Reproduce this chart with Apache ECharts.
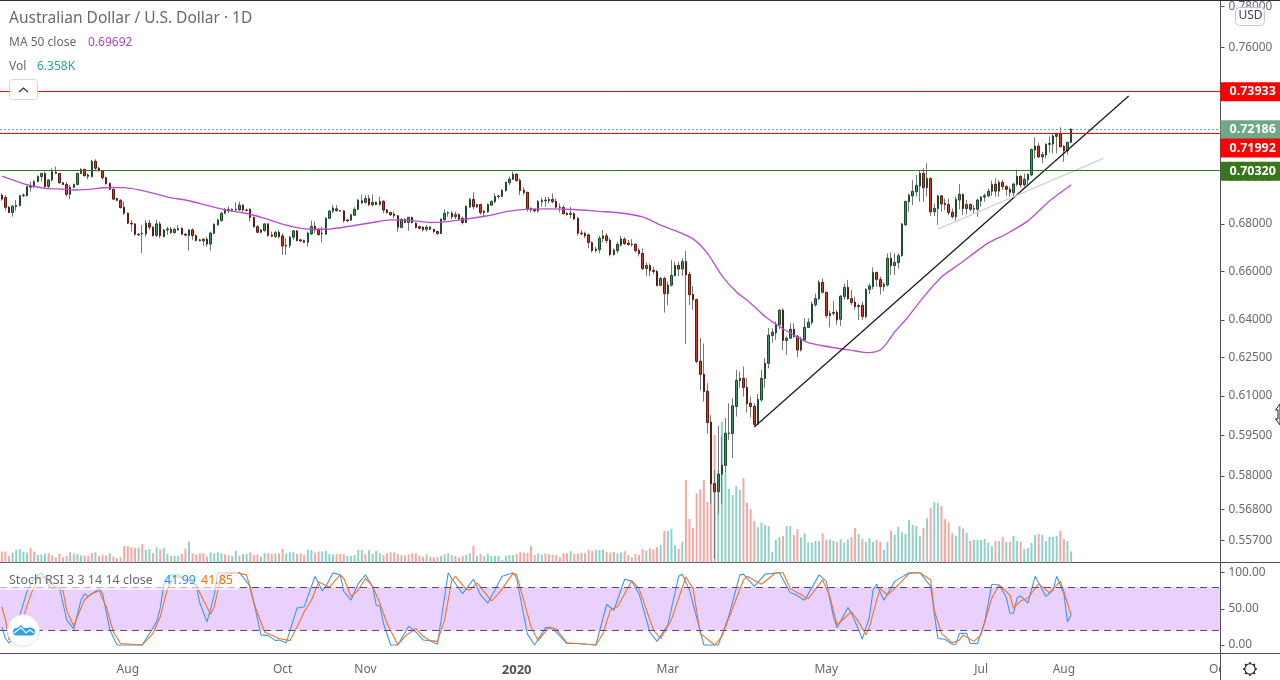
<!DOCTYPE html>
<html>
<head>
<meta charset="utf-8">
<title>AUD/USD</title>
<style>
  html, body { margin: 0; padding: 0; background: #fff; }
  #main { width: 1280px; height: 680px; }
</style>
<script src="https://cdn.jsdelivr.net/npm/echarts@6/dist/echarts.min.js"></script>
</head>
<body>
<div id="main"></div>
<script>
var opens = [
  .6925,.6914,.6872,.6849,.6875,.6879,.6922,.6922,.6959,.6962, .6984,.7006,.7020,.6962,.6991,.7026,.7020,.6979,.6971,.6928,
  .6959,.6971,.7020,.7038,.7013,.7006,.7074,.7043,.7032,.7001, .6976,.6950,.6910,.6902,.6872,.6846,.6803,.6800,.6756,.6757,
  .6757,.6803,.6786,.6751,.6800,.6746,.6774,.6777,.6763,.6774, .6781,.6756,.6750,.6774,.6750,.6732,.6727,.6735,.6714,.6760,
  .6796,.6814,.6846,.6863,.6857,.6860,.6860,.6881,.6860,.6863, .6828,.6788,.6764,.6771,.6800,.6753,.6746,.6764,.6749,.6709,
  .6708,.6743,.6770,.6732,.6729,.6722,.6757,.6790,.6778,.6760, .6756,.6824,.6855,.6865,.6857,.6856,.6817,.6816,.6837,.6863,
  .6900,.6893,.6910,.6883,.6893,.6884,.6897,.6860,.6849,.6842, .6835,.6785,.6820,.6806,.6828,.6803,.6788,.6786,.6777,.6786,
  .6777,.6768,.6759,.6818,.6846,.6846,.6831,.6840,.6824,.6806, .6873,.6906,.6874,.6884,.6849,.6852,.6881,.6896,.6918,.6919,
  .6944,.6979,.6994,.7017,.6989,.6946,.6937,.6867,.6863,.6856, .6896,.6900,.6900,.6906,.6897,.6872,.6871,.6846,.6841,.6844,
  .6824,.6761,.6760,.6753,.6721,.6686,.6690,.6738,.6749,.6730, .6670,.6686,.6710,.6735,.6718,.6713,.6713,.6688,.6675,.6611,
  .6624,.6603,.6599,.6542,.6570,.6507,.6542,.6582,.6624,.6609, .6641,.6587,.6504,.6483,.6236,.6185,.6119,.6001,.5773,.5743,
  .5807,.5839,.5958,.5958,.6060,.6160,.6169,.6134,.6073,.6061, .5993,.6085,.6168,.6227,.6338,.6348,.6381,.6440,.6318,.6327,
  .6363,.6335,.6280,.6320,.6370,.6390,.6462,.6486,.6554,.6513, .6418,.6427,.6431,.6403,.6495,.6533,.6487,.6473,.6454,.6460,
  .6414,.6525,.6536,.6595,.6566,.6536,.6543,.6654,.6623,.6636, .6665,.6796,.6896,.6921,.6939,.6964,.7020,.6957,.6998,.6852,
  .6866,.6921,.6889,.6884,.6850,.6831,.6903,.6928,.6866,.6884, .6863,.6863,.6899,.6916,.6921,.6941,.6973,.6942,.6981,.6962,
  .6950,.6935,.6972,.7007,.6969,.6991,.7013,.7124,.7142,.7094, .7102,.7150,.7151,.7186,.7197,.7142,.7121,.7159
];
var closes = [
  .6907,.6871,.6849,.6877,.6881,.6922,.6925,.6962,.6965,.6984, .7006,.7020,.6962,.6991,.7028,.7020,.6979,.6971,.6928,.6959,
  .6971,.7020,.7038,.7010,.7007,.7074,.7043,.7032,.7001,.6975, .6950,.6907,.6902,.6870,.6846,.6803,.6800,.6756,.6753,.6760,
  .6803,.6786,.6750,.6800,.6749,.6774,.6778,.6763,.6777,.6780, .6756,.6752,.6774,.6750,.6729,.6728,.6735,.6714,.6761,.6798,
  .6817,.6846,.6863,.6856,.6863,.6863,.6881,.6860,.6859,.6827, .6788,.6764,.6774,.6800,.6750,.6747,.6764,.6746,.6706,.6705,
  .6743,.6770,.6729,.6727,.6722,.6761,.6788,.6774,.6754,.6758, .6824,.6855,.6869,.6857,.6856,.6814,.6813,.6839,.6863,.6903,
  .6891,.6910,.6883,.6893,.6884,.6897,.6860,.6849,.6839,.6835, .6786,.6820,.6806,.6828,.6806,.6785,.6781,.6775,.6786,.6777,
  .6767,.6759,.6821,.6846,.6848,.6831,.6840,.6821,.6806,.6876, .6906,.6874,.6883,.6849,.6855,.6884,.6897,.6919,.6921,.6946,
  .6981,.6995,.7017,.6988,.6944,.6935,.6864,.6861,.6856,.6897, .6902,.6903,.6906,.6896,.6872,.6871,.6844,.6840,.6846,.6821,
  .6760,.6758,.6749,.6721,.6686,.6693,.6739,.6749,.6729,.6670, .6689,.6713,.6736,.6716,.6712,.6712,.6686,.6674,.6611,.6624,
  .6602,.6599,.6540,.6570,.6507,.6543,.6583,.6624,.6609,.6641, .6585,.6503,.6482,.6235,.6184,.6117,.5999,.5772,.5743,.5807,
  .5840,.5959,.5959,.6063,.6161,.6169,.6133,.6071,.6060,.5992, .6088,.6169,.6228,.6339,.6351,.6382,.6440,.6318,.6327,.6363,
  .6334,.6280,.6323,.6371,.6391,.6465,.6487,.6554,.6513,.6418, .6427,.6431,.6400,.6497,.6533,.6486,.6471,.6454,.6459,.6414,
  .6525,.6539,.6595,.6566,.6536,.6546,.6654,.6623,.6637,.6665, .6800,.6897,.6924,.6941,.6967,.7020,.6957,.6998,.6852,.6867,
  .6921,.6886,.6884,.6849,.6831,.6906,.6928,.6866,.6884,.6863, .6866,.6903,.6916,.6922,.6942,.6972,.6942,.6981,.6962,.6950,
  .6937,.6973,.7007,.6969,.6994,.7016,.7127,.7142,.7094,.7104, .7150,.7154,.7188,.7197,.7139,.7121,.7159,.72186
];
var lows = [
  .6900,.6858,.6846,.6831,.6857,.6875,.6916,.6918,.6940,.6955, .6980,.6984,.6955,.6955,.6984,.7017,.6973,.6968,.6918,.6907,
  .6955,.6968,.7017,.7006,.6994,.7002,.7035,.7028,.6994,.6970, .6946,.6903,.6898,.6867,.6839,.6799,.6767,.6750,.6749,.6675,
  .6746,.6774,.6746,.6743,.6739,.6742,.6753,.6757,.6757,.6771, .6752,.6746,.6686,.6732,.6725,.6725,.6706,.6703,.6686,.6756,
  .6792,.6810,.6842,.6846,.6853,.6853,.6857,.6853,.6853,.6810, .6784,.6760,.6760,.6767,.6746,.6743,.6740,.6739,.6668,.6668,
  .6697,.6732,.6725,.6724,.6718,.6703,.6753,.6760,.6750,.6721, .6752,.6820,.6846,.6853,.6852,.6806,.6808,.6812,.6833,.6859,
  .6885,.6888,.6877,.6875,.6880,.6879,.6846,.6845,.6835,.6825, .6767,.6781,.6802,.6771,.6802,.6781,.6777,.6767,.6767,.6773,
  .6760,.6753,.6757,.6810,.6831,.6821,.6821,.6814,.6797,.6803, .6867,.6863,.6868,.6839,.6831,.6848,.6877,.6889,.6908,.6915,
  .6940,.6969,.6991,.6984,.6925,.6925,.6853,.6849,.6849,.6849, .6874,.6874,.6889,.6889,.6867,.6849,.6839,.6835,.6824,.6817,
  .6750,.6753,.6739,.6696,.6679,.6679,.6675,.6721,.6718,.6662, .6665,.6675,.6703,.6710,.6707,.6703,.6678,.6662,.6605,.6580,
  .6580,.6588,.6538,.6538,.6430,.6460,.6536,.6577,.6580,.6580, .6304,.6460,.6441,.6228,.6121,.6079,.5957,.5699,.5505,.5664,
  .5699,.5813,.5934,.5866,.6022,.6131,.6098,.6037,.6019,.5984, .5990,.6079,.6131,.6208,.6309,.6320,.6363,.6280,.6260,.6323,
  .6327,.6252,.6274,.6313,.6367,.6381,.6454,.6481,.6508,.6407, .6370,.6418,.6381,.6376,.6483,.6483,.6460,.6441,.6400,.6400,
  .6407,.6506,.6525,.6536,.6503,.6517,.6536,.6584,.6584,.6611, .6661,.6792,.6852,.6881,.6918,.6896,.6896,.6918,.6834,.6834,
  .6796,.6852,.6860,.6838,.6824,.6814,.6863,.6838,.6841,.6855, .6846,.6831,.6874,.6896,.6915,.6921,.6918,.6918,.6947,.6921,
  .6918,.6910,.6962,.6959,.6962,.6969,.7008,.7087,.7087,.7065, .7087,.7112,.7109,.7109,.7136,.7072,.7104,.7155
];
var highs = [
  .6933,.6925,.6877,.6881,.6903,.6925,.6932,.6965,.6984,.6991, .7012,.7023,.7028,.6995,.7043,.7050,.7023,.6982,.6982,.6970,
  .6976,.7023,.7043,.7041,.7020,.7080,.7083,.7050,.7035,.7006, .6980,.6953,.6914,.6907,.6896,.6849,.6817,.6803,.6760,.6795,
  .6817,.6817,.6790,.6817,.6810,.6778,.6788,.6786,.6783,.6795, .6786,.6760,.6777,.6781,.6755,.6736,.6739,.6746,.6767,.6802,
  .6822,.6850,.6868,.6875,.6867,.6893,.6896,.6885,.6866,.6867, .6832,.6795,.6778,.6803,.6803,.6767,.6770,.6774,.6760,.6739,
  .6749,.6774,.6774,.6735,.6733,.6767,.6814,.6810,.6782,.6788, .6830,.6860,.6881,.6881,.6860,.6860,.6820,.6843,.6872,.6907,
  .6927,.6925,.6925,.6927,.6897,.6917,.6903,.6865,.6853,.6853, .6838,.6824,.6824,.6831,.6832,.6807,.6792,.6791,.6795,.6790,
  .6779,.6770,.6823,.6863,.6855,.6855,.6853,.6846,.6831,.6880, .6913,.6937,.6887,.6886,.6859,.6888,.6902,.6932,.6925,.6950,
  .6985,.7006,.7028,.7020,.6998,.6959,.6939,.6871,.6867,.6903, .6913,.6917,.6917,.6932,.6910,.6889,.6881,.6850,.6874,.6850,
  .6831,.6774,.6767,.6760,.6725,.6703,.6749,.6774,.6760,.6739, .6696,.6724,.6749,.6743,.6732,.6735,.6717,.6696,.6696,.6637,
  .6633,.6619,.6605,.6577,.6577,.6557,.6647,.6640,.6640,.6654, .6685,.6598,.6539,.6487,.6327,.6306,.6150,.6028,.5823,.5986,
  .5946,.6016,.6073,.6091,.6202,.6195,.6215,.6169,.6098,.6073, .6108,.6202,.6248,.6367,.6367,.6394,.6444,.6448,.6337,.6387,
  .6387,.6340,.6333,.6407,.6407,.6474,.6508,.6564,.6570,.6515, .6438,.6477,.6441,.6501,.6550,.6564,.6522,.6495,.6467,.6474,
  .6529,.6550,.6616,.6598,.6577,.6554,.6675,.6679,.6675,.6675, .6803,.6900,.6932,.6991,.7013,.7035,.7043,.7065,.7002,.6888,
  .6925,.6925,.6910,.6910,.6867,.6918,.6973,.6932,.6903,.6888, .6881,.6910,.6921,.6932,.6954,.6988,.6998,.6991,.6991,.6969,
  .6962,.6979,.7038,.7013,.7020,.7020,.7131,.7182,.7157,.7116, .7154,.7185,.7200,.7203,.7227,.7146,.7162,.7223
];

// volume in thousands, side 1 = up bar, 0 = down bar
var volumes = [
  6.2,6.2,3.7,5.6,7.1,7.7,6.0,5.6,8.1,6.2, 4.2,4.4,5.2,5.2,4.0,2.9,4.8,2.9,3.7,5.8,
  5.2,4.8,3.9,4.0,3.7,5.2,5.8,3.7,4.2,3.9, 5.2,3.3,2.3,2.9,9.4,9.4,8.7,8.3,8.5,10.6,
  7.1,7.7,5.2,8.7,7.5,8.3,4.8,3.7,3.7,3.7, 4.8,7.9,11.9,5.2,4.6,5.2,5.2,3.3,5.8,5.2,
  5.8,5.2,4.6,4.0,3.7,6.6,3.9,4.8,4.8,5.8, 4.2,4.6,3.3,5.2,5.2,4.8,5.2,5.2,7.7,5.2,
  5.8,5.8,4.8,5.2,4.4,7.5,7.1,5.6,6.2,6.2, 6.6,4.8,4.4,4.8,4.8,4.6,3.7,3.7,4.2,7.1,
  7.1,4.8,7.1,4.8,6.6,5.2,4.2,5.2,5.8,5.8, 4.8,4.2,4.0,4.6,5.2,5.2,3.9,3.3,4.6,3.3,
  2.9,2.9,3.7,4.6,5.2,4.2,3.7,2.9,3.7,4.2, 5.2,9.4,3.7,4.8,3.7,4.8,3.7,3.7,3.7,1.3,
  3.7,4.2,4.2,4.8,6.0,5.6,5.6,9.4,4.2,5.2, 4.4,5.2,4.8,4.4,4.2,2.9,5.2,5.2,6.4,4.8,
  5.2,5.6,5.2,7.1,6.6,7.1,7.1,7.1,6.0,5.6, 6.0,5.2,5.6,6.4,4.2,2.9,4.8,4.2,7.7,6.6,
  8.1,7.5,8.7,10.0,18.1,18.1,19.3,10.0,7.7,11.9, 47.6,25.0,20.0,39.9,42.2,47.6,34.9,52.0,73.5,53.3,
  81.1,51.8,42.4,38.9,44.1,41.8,48.7,34.3,30.8,23.9, 20.2,23.0,21.6,21.0,6.0,12.9,14.5,15.2,21.0,21.0,
  15.8,19.1,14.5,16.8,11.6,11.4,12.3,12.3,16.8,12.9, 13.3,12.3,11.8,13.3,11.4,13.3,14.6,19.8,16.2,13.5,
  11.8,13.9,11.8,12.9,11.8,7.1,11.9,18.1,15.8,20.4, 17.3,16.4,24.5,21.6,21.0,15.4,19.8,25.6,31.4,34.9,
  34.3,32.6,25.0,23.1,17.0,15.4,21.0,19.5,17.0,12.3, 12.9,12.9,12.9,13.5,11.4,9.4,12.3,12.3,14.6,11.8,
  11.8,15.2,12.3,11.8,7.7,8.3,11.2,15.8,16.4,15.8, 12.3,14.6,14.6,15.2,18.1,13.5,12.3,6.358
];
var volumeSides = [
  0,0,0,1,1,1,1,1,0,0, 1,1,1,0,0,1,0,0,0,1, 0,1,1,0,0,0,1,0,0,0, 1,0,0,0,0,0,0,0,1,0,
  1,1,0,1,0,1,1,0,1,1, 0,0,1,0,0,0,0,0,1,1, 1,1,0,0,1,1,0,1,1,0, 0,0,1,1,0,0,1,0,0,1,
  1,1,0,0,0,1,1,0,0,1, 1,1,1,0,0,0,1,1,1,1, 1,0,1,1,1,1,0,0,0,0, 0,1,0,0,0,0,0,0,1,0,
  0,0,1,1,1,0,1,0,0,1, 1,0,1,0,1,1,1,1,1,1, 1,1,1,0,0,0,0,0,0,1, 1,0,0,0,0,0,0,0,1,0,
  0,1,0,0,0,1,1,1,0,0, 0,1,1,0,0,1,0,0,0,1, 0,0,0,1,0,1,1,1,0,1, 0,0,0,0,0,0,0,0,0,1,
  1,1,1,1,1,1,0,0,0,0, 1,1,1,1,1,1,1,0,1,1, 0,0,1,1,1,1,1,1,0,0, 1,1,0,1,1,1,0,0,1,0,
  1,1,1,0,0,1,1,0,1,1, 1,1,1,1,1,1,0,1,0,1, 1,0,0,0,0,1,1,0,1,0, 1,1,1,1,1,1,0,1,0,1,
  0,1,1,0,1,1,1,1,0,1, 1,1,1,1,0,0,1,1
];

var maBars = [0,4,7,12,17,20,24,30,34,40,46,52,57,62,67,73,77,82,86,91,97,103,108,114,119,
  123,129,135,141,146,152,159,166,172,178,183,187,192,196,200,204,208,212,216,220,224,228,232,236,239,
  241,244,246,248,251,256,261,266,274,279,285,291,297];
var maValues = [.7008,.6986,.6970,.6954,.6951,.6947,.6950,.6958,.6957,.6941,.6916,.6900,.6880,.6860,.6848,.6824,.6803,.6784,.6777,.6778,.6791,.6806,.6817,.6814,.6806,
  .6809,.6821,.6835,.6855,.6864,.6865,.6862,.6854,.6847,.6830,.6795,.6771,.6736,.6675,.6582,.6515,.6468,.6414,.6374,.6340,.6309,.6297,.6287,.6279,.6272,
  .6270,.6280,.6311,.6352,.6400,.6493,.6576,.6630,.6719,.6757,.6813,.6899,.69692];

var kBars = [0,1,2,3,5,7,9,11,13,14,16,18,20,22,23,24,27,28,30,32,39,41,43,44,45,47,49,54,55,57,59,60,66,69,72,74,76,77,79,81,82,84,86,87,89,90,92,94,95,97,99,101,103,104,105,106,108,110,113,115,117,119,
  121,124,125,128,131,133,135,139,142,143,146,148,151,153,157,160,165,168,170,173,175,177,180,182,185,188,189,191,195,199,202,205,206,209,212,216,219,220,223,227,229,231,232,235,236,238,
  239,241,242,243,245,248,252,255,258,259,260,262,264,265,266,268,269,271,273,275,277,279,280,281,282,283,285,287,290,292,293,295,296,297];
var kValues = [25,9,3,7,41,74,92,100,83,78,80,35,22,62,71,67,78,71,21,0,0,16,32,51,83,97,97,83,58,32,69,100,100,81,14,13,6,7,3,35,51,53,81,95,75,81,100,97,74,62,85,97,81,55,54,30,0,0,26,18,7,6,
  1,100,92,71,91,69,58,95,100,92,15,0,24,23,2,2,0,56,48,91,88,71,18,5,28,95,98,76,0,0,41,97,98,81,98,100,72,71,62,97,88,39,24,52,44,21,
  8,39,76,84,62,88,100,100,81,44,9,8,1,1,16,16,2,2,32,84,83,66,44,44,65,68,58,95,67,76,95,71,32,41.99];
var dBars = [0,1,2,4,6,8,10,12,14,17,18,20,21,23,25,27,29,31,33,39,42,44,46,48,51,54,56,58,59,61,65,68,70,73,77,80,82,84,86,88,91,94,95,97,99,101,103,105,107,110,112,115,117,119,
  121,123,125,126,129,130,132,136,138,142,143,147,149,152,154,157,165,167,169,171,175,177,181,183,186,190,192,194,198,200,206,207,211,215,217,219,224,228,230,232,236,
  238,240,241,243,244,246,249,252,255,258,259,261,264,266,267,270,272,275,277,280,281,283,285,288,291,294,295,297];
var dValues = [53,35,7,12,39,69,92,95,83,76,48,26,39,63,71,75,53,18,2,0,16,39,78,95,92,83,62,43,53,97,100,97,58,18,9,6,25,46,62,87,80,97,92,67,76,92,81,58,30,0,12,23,12,6,
  5,35,90,95,77,76,86,61,71,99,97,25,6,25,22,3,0,16,48,53,89,78,21,9,35,94,78,16,0,12,90,95,84,100,100,78,64,90,67,28,46,
  32,14,25,62,78,69,83,99,100,90,48,16,3,7,14,5,14,65,83,69,51,61,65,85,72,88,74,41.85];
var rsiTicks = [0, 50, 100];

var priceTicks = [0.78, 0.76, 0.70, 0.68, 0.66, 0.64, 0.625, 0.61, 0.595, 0.58, 0.568, 0.557];
var dateTickBars = [35, 78, 101, 143, 185, 229, 272, 295, 338];
var dateTickNames = ['Aug', 'Oct', 'Nov', '2020', 'Mar', 'May', 'Jul', 'Aug', 'Oct'];
var barCategories = Array.from({ length: 339 }, function (_, i) { return String(i); });

// drawn lines on the chart: [bar, price]
var trendBlack = [[209, .5982], [313, .7371]];
var trendGray = [[260, .6778], [306, .7087]];

var PRICE_RED = '#ff0000';
var PRICE_GREEN = '#38761d';
var LAST_GREEN = '#6fa98a';
var TEXT = '#666974';
var AXIS = '#50535e';

var chart = echarts.init(document.getElementById('main'));

function tag(price, color, offsetY, lineType) {
  return {
    yAxis: price,
    lineStyle: { color: color, width: 1, type: lineType || 'solid' },
    label: {
      show: true, position: 'end', distance: 0, formatter: price.toFixed(5),
      color: '#fff', fontFamily: 'Noto Sans', fontSize: 12.5, fontWeight: 'bold',
      backgroundColor: color, padding: [3, 9, 3, 9], offset: [0, (offsetY || 0) + 0.5]
    }
  };
}

var wickData = opens.map(function (o, i) { return [o, closes[i], lows[i], highs[i]]; });
var bodyData = opens.map(function (o, i) {
  return [o, closes[i], Math.min(o, closes[i]), Math.max(o, closes[i])];
});
var maData = maBars.map(function (b, i) { return [b, maValues[i]]; });
var kData = kBars.map(function (b, i) { return [b, kValues[i]]; });
var dData = dBars.map(function (b, i) { return [b, dValues[i]]; });

var option = {
  animation: false,
  backgroundColor: '#fff',
  textStyle: { fontFamily: 'Noto Sans' },
  grid: [
    { left: -1.6, width: 1222.1, top: 0.5, height: 561.8 },
    { left: -1.6, width: 1222.1, top: 562.3, height: 91 }
  ],
  xAxis: [
    {
      type: 'category', gridIndex: 0, data: barCategories,
      axisLine: { onZero: false, lineStyle: { color: AXIS, width: 1 } },
      axisTick: { show: false }, axisLabel: { show: false }
    },
    {
      type: 'category', gridIndex: 1, data: barCategories, z: 0,
      axisLine: { onZero: false, lineStyle: { color: AXIS, width: 1 } },
      axisTick: {
        alignWithLabel: true, length: 4, lineStyle: { color: AXIS },
        interval: function (i) { return dateTickBars.indexOf(i) >= 0; }
      },
      axisLabel: {
        color: TEXT, fontSize: 12, margin: 10,
        interval: function (i) { return dateTickBars.indexOf(i) >= 0; },
        formatter: function (v, i) {
          var name = dateTickNames[dateTickBars.indexOf(i)];
          return name === '2020' ? '{y|2020}' : name;
        },
        rich: { y: { fontSize: 13, fontWeight: 'bold', color: '#50535e' } }
      }
    }
  ],
  yAxis: [
    {
      type: 'log', gridIndex: 0, position: 'right', min: 0.5493, max: 0.7829, z: 2,
      axisLine: { show: true, lineStyle: { color: AXIS, width: 1 } },
      axisTick: { show: true, length: 4, lineStyle: { color: AXIS }, customValues: priceTicks },
      axisLabel: {
        color: TEXT, fontSize: 11.8, margin: 8, padding: [5, 0, 0, 0], customValues: priceTicks,
        formatter: function (v) { return Number(v).toFixed(5); }
      },
      splitLine: { show: false }
    },
    {
      type: 'value', gridIndex: 0, min: 0, max: 324.7, show: false, splitLine: { show: false }
    },
    {
      type: 'value', gridIndex: 1, position: 'right', min: -11.5, max: 114.4, z: 2,
      axisLine: { show: true, lineStyle: { color: AXIS, width: 1 } },
      axisTick: { show: true, length: 4, lineStyle: { color: AXIS }, customValues: rsiTicks },
      axisLabel: {
        color: TEXT, fontSize: 11.8, margin: 8, padding: [5, 0, 0, 0], customValues: rsiTicks,
        formatter: function (v) { return v.toFixed(2); }
      },
      splitLine: { show: false }
    }
  ],
  series: [
    {
      name: 'Vol', type: 'bar', xAxisIndex: 0, yAxisIndex: 1, data: volumes, barWidth: 2, z: 1,
      itemStyle: {
        color: function (p) { return volumeSides[p.dataIndex] ? '#90d2c8' : '#f6a8a4'; }
      }
    },
    {
      name: 'wicks', type: 'candlestick', xAxisIndex: 0, yAxisIndex: 0, data: wickData, barWidth: 1, z: 2,
      itemStyle: { color: '#777', color0: '#777', borderColor: '#777', borderColor0: '#777', borderWidth: 1 }
    },
    {
      name: 'AUDUSD', type: 'candlestick', xAxisIndex: 0, yAxisIndex: 0, data: bodyData, barWidth: 2, z: 3,
      itemStyle: {
        color: '#3f8f6a', color0: '#e0341f', borderColor: '#1d4a2f', borderColor0: '#5c1c12', borderWidth: 1
      },
      markLine: {
        silent: true, symbol: 'none', animation: false, precision: 5,
        data: [
          tag(0.72186, LAST_GREEN, 0, [2, 2]),
          tag(0.73933, PRICE_RED),
          tag(0.71992, PRICE_RED, 14),
          tag(0.7032, PRICE_GREEN)
        ]
      }
    },
    {
      name: 'MA 50 close', type: 'line', xAxisIndex: 0, yAxisIndex: 0, data: maData, smooth: 0.25,
      showSymbol: false, z: 4, lineStyle: { color: '#b84fd0', width: 1.3 }
    },
    {
      name: 'trend', type: 'line', xAxisIndex: 0, yAxisIndex: 0, data: trendBlack, showSymbol: false, z: 4,
      lineStyle: { color: '#1c1c1c', width: 1.3 }
    },
    {
      name: 'trend2', type: 'line', xAxisIndex: 0, yAxisIndex: 0, data: trendGray, showSymbol: false, z: 4,
      lineStyle: { color: '#d3d3d3', width: 1.3 }
    },
    {
      name: '%K', type: 'line', xAxisIndex: 1, yAxisIndex: 2, data: kData, showSymbol: false, z: 3,
      lineStyle: { color: '#3c98f5', width: 1.1 },
      markArea: {
        silent: true, itemStyle: { color: '#e9d0fd' },
        data: [[{ yAxis: 20 }, { yAxis: 80 }]]
      },
      markLine: {
        silent: true, symbol: 'none', animation: false, label: { show: false },
        lineStyle: { color: '#5d4a78', width: 1, type: [7, 5] },
        data: [{ yAxis: 80 }, { yAxis: 20 }]
      }
    },
    {
      name: '%D', type: 'line', xAxisIndex: 1, yAxisIndex: 2, data: dData, showSymbol: false, z: 4,
      lineStyle: { color: '#f4741f', width: 1.1 }
    }
  ],
  graphic: [
    // white right hand strip cuts the last date label
    { type: 'rect', z: 1, shape: { x: 1221, y: 654, width: 59, height: 26 }, style: { fill: '#fff' } },
    { type: 'rect', z: 10, shape: { x: 0, y: 0, width: 1280, height: 1 }, style: { fill: '#2a2e39' } },
    { type: 'line', z: 10, shape: { x1: 1220.5, y1: 653, x2: 1220.5, y2: 680 }, style: { stroke: AXIS, lineWidth: 1 } },
    { type: 'line', z: 10, shape: { x1: 1220, y1: 562.5, x2: 1280, y2: 562.5 }, style: { stroke: AXIS, lineWidth: 1 } },
    { type: 'line', z: 10, shape: { x1: 1220, y1: 653.5, x2: 1280, y2: 653.5 }, style: { stroke: AXIS, lineWidth: 1 } },

    // header
    { type: 'text', z: 20, x: 9, y: 11, style: { text: 'Australian Dollar / U.S. Dollar \u00b7 1D', fill: TEXT, font: '15.5px "Noto Sans"' } },
    { type: 'text', z: 20, x: 9, y: 37, style: { text: 'MA 50 close', fill: TEXT, font: '12px "Noto Sans"' } },
    { type: 'text', z: 20, x: 88, y: 37, style: { text: '0.69692', fill: '#ab47bc', font: '12px "Noto Sans"' } },
    { type: 'text', z: 20, x: 9, y: 61, style: { text: 'Vol', fill: TEXT, font: '12px "Noto Sans"' } },
    { type: 'text', z: 20, x: 37, y: 61, style: { text: '6.358K', fill: '#26a69a', font: '12px "Noto Sans"' } },
    { type: 'rect', z: 21, shape: { x: 9.5, y: 79.5, width: 28, height: 20, r: 3 }, style: { fill: '#fff', stroke: '#d6d8de', lineWidth: 1 } },
    { type: 'polyline', z: 22, shape: { points: [[19, 92], [23.5, 88], [28, 92]] }, style: { fill: null, stroke: '#333', lineWidth: 1.3 } },

    // currency box
    { type: 'rect', z: 21, shape: { x: 1235.5, y: 7.5, width: 29, height: 18, r: 4 }, style: { fill: '#fff', stroke: '#c5c7ce', lineWidth: 1 } },
    { type: 'text', z: 22, x: 1238.5, y: 9.5, style: { text: 'USD', fill: '#434651', font: '12px "Noto Sans"' } },

    // stoch legend over the pane
    { type: 'rect', z: 20, shape: { x: 0, y: 571, width: 238, height: 19 }, style: { fill: 'rgba(255,255,255,0.6)' } },
    { type: 'text', z: 21, x: 9, y: 574, style: { text: 'Stoch RSI 3 3 14 14 close', fill: TEXT, font: '12.5px "Noto Sans"' } },
    { type: 'text', z: 21, x: 164, y: 574, style: { text: '41.99', fill: '#2196f3', font: '12.5px "Noto Sans"' } },
    { type: 'text', z: 21, x: 201, y: 574, style: { text: '41.85', fill: '#ff6d00', font: '12.5px "Noto Sans"' } },

    // floating logo
    { type: 'circle', z: 22, shape: { cx: 23.5, cy: 630.5, r: 16 }, style: { fill: '#fff', stroke: '#e6dcec', lineWidth: 1 } },
    { type: 'rect', z: 23, shape: { x: 13, y: 628, width: 22, height: 7.5, r: 3.7 }, style: { fill: '#2f9fe6' } },
    { type: 'polygon', z: 23, shape: { points: [[15, 630], [21, 625], [26, 630], [30, 627], [33, 630], [33, 633], [15, 633]] }, style: { fill: '#2f9fe6' } },
    { type: 'polyline', z: 24, shape: { points: [[14, 633], [21, 627.5], [26, 633], [30, 630], [34, 633]] }, style: { fill: null, stroke: '#fff', lineWidth: 1.2 } },

    // settings gear
    { type: 'line', z: 21, shape: { x1: 1250, y1: 662, x2: 1250, y2: 676 }, style: { stroke: '#131722', lineWidth: 1.4 } },
    { type: 'line', z: 21, shape: { x1: 1243, y1: 669, x2: 1257, y2: 669 }, style: { stroke: '#131722', lineWidth: 1.4 } },
    { type: 'line', z: 21, shape: { x1: 1245, y1: 664, x2: 1255, y2: 674 }, style: { stroke: '#131722', lineWidth: 1.4 } },
    { type: 'line', z: 21, shape: { x1: 1245, y1: 674, x2: 1255, y2: 664 }, style: { stroke: '#131722', lineWidth: 1.4 } },
    { type: 'circle', z: 22, shape: { cx: 1250, cy: 669, r: 5.2 }, style: { fill: '#fff', stroke: '#131722', lineWidth: 1.1 } },

    // mouse pointer at the window edge
    { type: 'polygon', z: 30, shape: { points: [[1280, 404], [1275.5, 410], [1278, 410], [1278, 419], [1275.5, 419], [1280, 425]] }, style: { fill: '#fff', stroke: '#222', lineWidth: 1 } }
  ]
};

chart.setOption(option);
</script>
</body>
</html>
